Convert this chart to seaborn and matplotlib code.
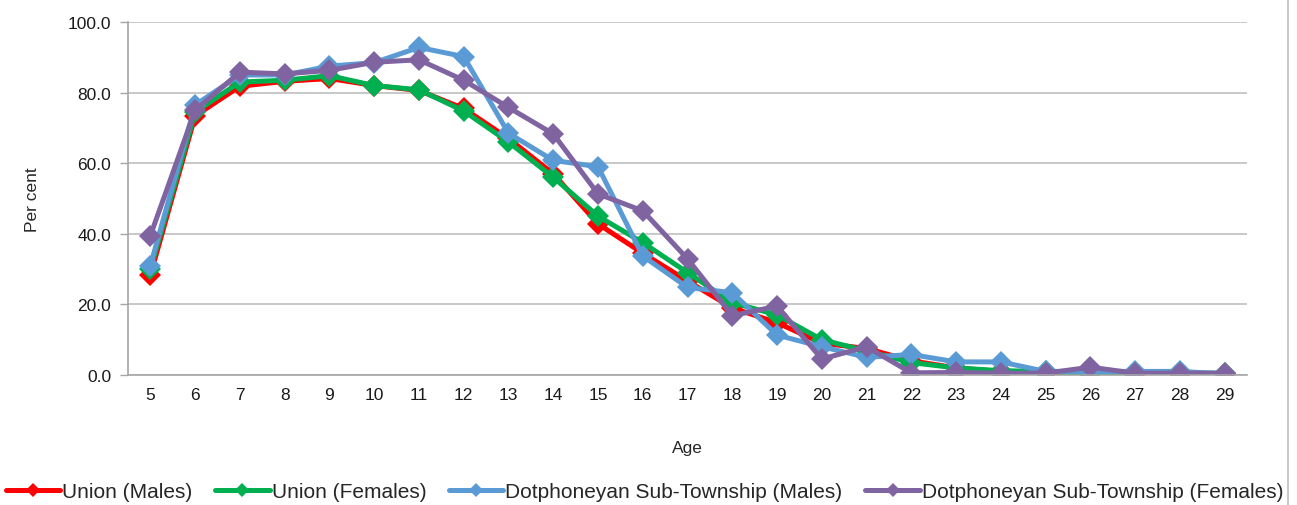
import pandas as pd
import seaborn as sns
import matplotlib.pyplot as plt
from matplotlib.lines import Line2D

# Ages on the x axis
ages = list(range(5, 30))

# Series values (per cent)
union_males = [28.3, 73.4, 81.8, 83.2, 84.0, 82.0, 80.6, 75.5, 67.0, 57.0,
               42.8, 34.5, 26.6, 19.0, 14.8, 9.0, 7.5, 4.0, 2.0, 1.0,
               0.5, 0.5, 0.3, 0.3, 0.2]
union_females = [30.0, 74.5, 83.0, 83.5, 84.8, 82.0, 80.8, 74.8, 66.0, 56.0,
                 45.0, 37.5, 29.0, 20.5, 17.0, 10.0, 6.8, 3.5, 2.0, 1.2,
                 1.0, 0.3, 0.5, 0.5, 0.5]
dot_males = [31.0, 76.5, 85.0, 85.0, 87.5, 88.5, 92.8, 90.2, 68.5, 60.8,
             59.0, 33.7, 24.8, 23.3, 11.3, 8.0, 5.0, 5.8, 3.7, 3.7,
             1.0, 1.0, 1.0, 1.0, 0.3]
dot_females = [39.5, 75.0, 85.8, 85.3, 86.3, 88.6, 89.3, 83.5, 75.8, 68.3,
               51.3, 46.5, 32.9, 16.8, 19.5, 4.5, 8.0, 0.6, 0.7, 0.5,
               0.5, 2.2, 0.5, 0.5, 0.5]

series_names = ["Union (Males)", "Union (Females)",
                "Dotphoneyan Sub-Township (Males)",
                "Dotphoneyan Sub-Township (Females)"]
series_values = [union_males, union_females, dot_males, dot_females]
colors = ["#FF0000", "#00B050", "#5B9BD5", "#8064A2"]

frames = []
for name, vals in zip(series_names, series_values):
    frames.append(pd.DataFrame({"Age": ages, "Per cent": vals, "Series": name}))
df = pd.concat(frames, ignore_index=True)

sns.set_style("white")
plt.rcParams["font.family"] = ["Liberation Sans", "DejaVu Sans"]

fig = plt.figure(figsize=(12.97, 5.06), dpi=100)
ax = fig.add_axes([0.0987, 0.257, 0.8628, 0.6975])

palette = dict(zip(series_names, colors))
sns.lineplot(data=df, x="Age", y="Per cent", hue="Series", palette=palette,
             style="Series", markers={n: "D" for n in series_names},
             dashes=False, linewidth=3.6, markersize=11, markeredgewidth=0,
             legend=False, ax=ax)

ax.set_xlim(4.5, 29.5)
ax.set_ylim(0, 100)
ax.set_xticks(ages)
ax.set_xticklabels([str(a) for a in ages])
ax.set_yticks(range(0, 101, 20))
ax.set_yticklabels([f"{v:.1f}" for v in range(0, 101, 20)])
ax.tick_params(axis="both", labelsize=12.5, colors="#1A1A1A")
ax.tick_params(axis="y", length=6, width=1, color="#A6A6A6", left=True, pad=6)
ax.tick_params(axis="x", length=0, pad=9)

ax.grid(axis="y", color="#BFBFBF", linewidth=1.2)
ax.set_axisbelow(True)
for side in ["top", "right"]:
    ax.spines[side].set_visible(False)
for side in ["left", "bottom"]:
    ax.spines[side].set_color("#A6A6A6")
    ax.spines[side].set_linewidth(1.2)

ax.set_xlabel("Age", fontsize=12.5, labelpad=27)
ax.set_ylabel("Per cent", fontsize=12.5, labelpad=20)

handles = [Line2D([0], [0], color=c, linewidth=3.6, marker="D",
                  markersize=7, markeredgewidth=0) for c in colors]
fig.legend(handles, series_names, loc="center", bbox_to_anchor=(0.497, 0.027),
           ncol=4, frameon=False, fontsize=15, handlelength=2.6,
           handletextpad=0.1, columnspacing=1.1)

# chart area border on the right edge
fig.add_artist(Line2D([0.993, 0.993], [0.0, 1.0], color="#BFBFBF",
                      linewidth=1.2, transform=fig.transFigure))

fig.savefig("out.png", dpi=100)
